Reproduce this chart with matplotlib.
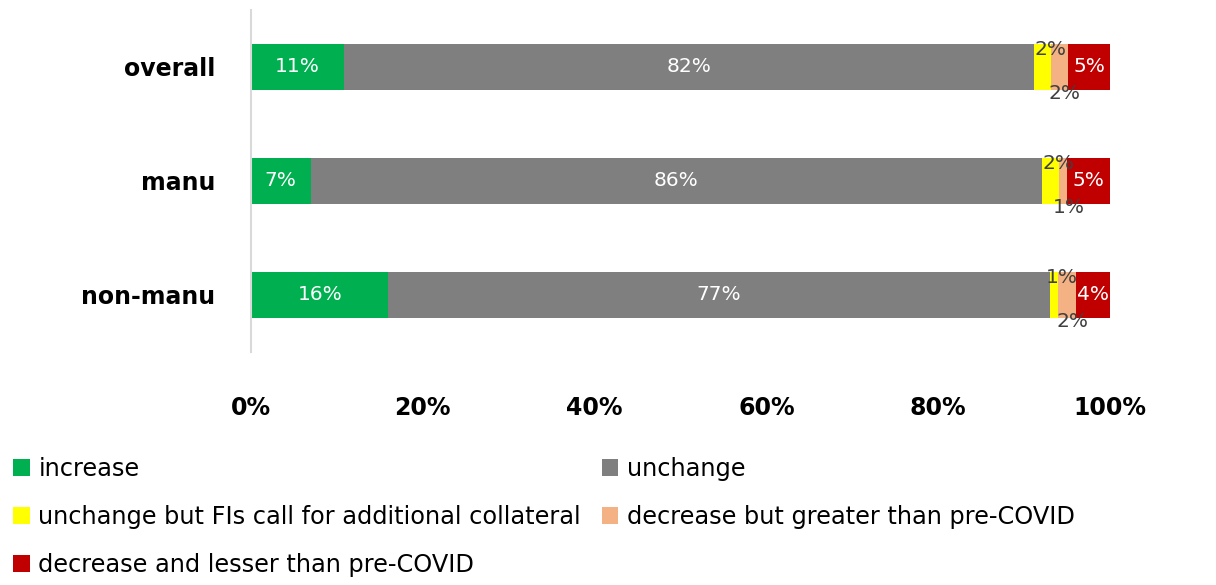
import matplotlib.pyplot as plt
import numpy as np

plt.rcParams['font.family'] = ['DejaVu Sans']

groups = ['overall', 'manu', 'non-manu']
series = ['increase', 'unchange', 'unchange but FIs call for additional collateral',
          'decrease but greater than pre-COVID', 'decrease and lesser than pre-COVID']
colors = ['#00B050', '#7F7F7F', '#FFFF00', '#F4B183', '#C00000']

increase = [11, 7, 16]
unchange = [82, 86, 77]
unchange_collateral = [2, 2, 1]
decrease_greater = [2, 1, 2]
decrease_lesser = [5, 5, 4]

data = np.array([increase, unchange, unchange_collateral, decrease_greater, decrease_lesser], dtype=float)
shares = data / data.sum(axis=0) * 100

fig = plt.figure(figsize=(12.16, 5.85), dpi=100)
ax = fig.add_axes([251 / 1216, 1 - 352 / 585, 859 / 1216, 342 / 585])

y = np.arange(len(groups))
h = 0.4
left = np.zeros(len(groups))
bars = []
for i, name in enumerate(series):
    b = ax.barh(y, shares[i], left=left, height=h, color=colors[i], label=name, linewidth=0)
    bars.append(b)
    for j in range(len(groups)):
        cx = left[j] + shares[i][j] / 2
        txt = '%d%%' % data[i][j]
        if i in (0, 1, 4):
            ax.text(cx, y[j], txt, ha='center', va='center', color='white', fontsize=14.5)
        elif i == 2:
            ax.text(cx + 0.9, y[j] - h / 2 + 0.05, txt, ha='center', va='center', color='#404040', fontsize=14.5)
        else:
            ax.text(cx + 0.6, y[j] + h / 2 + 0.03, txt, ha='center', va='center', color='#404040', fontsize=14.5)
    left += shares[i]

ax.set_xlim(0, 100)
ax.set_ylim(2.5, -0.5)
ax.set_yticks(y)
ax.set_yticklabels(groups, fontsize=17, fontweight='bold')
ax.set_xticks(np.arange(0, 101, 20))
ax.set_xticklabels(['%d%%' % v for v in range(0, 101, 20)], fontsize=17, fontweight='bold')
ax.tick_params(axis='both', length=0)
ax.tick_params(axis='x', pad=32)
ax.tick_params(axis='y', pad=26)
for s in ['top', 'right', 'bottom']:
    ax.spines[s].set_visible(False)
ax.spines['left'].set_color('#D9D9D9')
ax.spines['left'].set_linewidth(1.5)

order = [0, 2, 4, 1, 3]
handles = [bars[k] for k in order]
labels = [series[k] for k in order]
fig.legend(handles, labels, loc='upper left', bbox_to_anchor=(0.003, 0.236), ncol=2,
           frameon=False, fontsize=17.3, handlelength=0.7, handleheight=0.7,
           handletextpad=0.35, columnspacing=0.85, labelspacing=1.0, borderaxespad=0)

fig.savefig('out.png', dpi=100)
